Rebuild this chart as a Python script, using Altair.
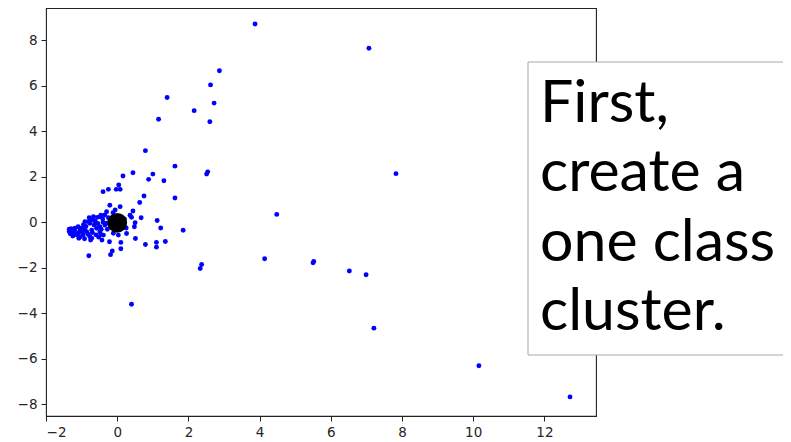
import altair as alt
import pandas as pd

# Blue sample points (x, y)
xs = [7.07, 7.83, 5.52, 5.50, 6.52, 6.99, 7.21, 10.16, 12.72, 3.87, 2.87, 2.62, 2.72, 2.16, 2.60,
      1.40, 1.16, 0.79, 1.62, 2.51, 2.54, 0.44, 0.16, 1.00, 0.88, 1.31, -0.40, -0.25, -0.03, 0.08,
      0.04, 0.75, 1.62, 4.48, 4.14, 2.37, 2.33, 0.40,
      0.63, -0.21, 0.08, 0.44, -0.46, -0.12, 0.36, 0.40, 0.67, 1.12, -0.56, 0.50, 0.48, 1.22, 1.85,
      0.26, 0.51, 0.10, 0.10, 0.79, 1.10, 1.10, 1.35, -0.14, -0.19, -0.80, -0.43, -0.22, -0.75,
      -0.46, -0.06,
      -0.79, -0.67, -0.49, -0.41, -0.91, -0.77, -1.28, -1.19, -1.10, -1.00, -1.24, -1.10, -0.96,
      -0.86, -0.72, -0.58, -0.49, -0.35, -1.05, -0.77, -0.72, -0.49, -0.39, -0.11, 0.03, -0.30,
      -0.21, -0.35, -0.30,
      -1.35, -1.32, -1.30, -1.20, -1.15, -1.05, -0.98, -0.92, -0.88, -0.82, -0.70, -0.65, -0.60,
      -0.55, -0.52, -0.45, -0.40, -0.62, -0.95, -1.08, -0.92, -0.68, -0.28, -0.25, -1.25, -1.35,
      -0.15, -0.10, 0.20, 0.25, -0.81, -0.72]
ys = [7.65, 2.14, -1.72, -1.78, -2.14, -2.30, -4.65, -6.30, -7.67, 8.72, 6.66, 6.04, 5.24, 4.91, 4.42,
      5.49, 4.53, 3.15, 2.47, 2.12, 2.22, 2.18, 2.04, 2.12, 1.89, 1.83, 1.35, 1.45, 1.45, 1.45,
      1.64, 1.16, 1.07, 0.35, -1.60, -1.85, -2.03, -3.60,
      0.87, 0.75, 0.69, 0.50, 0.31, 0.42, 0.31, 0.22, 0.20, 0.08, 0.22, -0.02, -0.19, -0.25, -0.35,
      -0.49, -0.71, -0.88, -1.16, -0.97, -0.88, -1.09, -0.84, -1.26, -1.42, -1.47, -0.78, -0.85, -0.78,
      -0.53, 0.54,
      0.20, 0.25, 0.25, 0.15, 0.03, -0.04, -0.34, -0.26, -0.19, -0.26, -0.48, -0.48, -0.56,
      -0.41, -0.34, -0.26, -0.19, -0.12, -0.63, -0.63, -0.70, -0.41, -0.56, -0.48, -0.56, -0.04,
      0.03, 0.32, 0.47,
      -0.40, -0.50, -0.28, -0.38, -0.55, -0.35, -0.45, -0.30, -0.18, -0.52, -0.45, -0.12, -0.55,
      -0.05, -0.65, -0.30, 0.00, 0.05, -0.10, -0.70, -0.72, 0.10, -0.30, 0.20, -0.60, -0.30,
      -0.20, 0.15, 0.15, -0.25, 0.03, 0.10]

# Cluster centre
cx = [0.0]
cy = [-0.02]

x_ticks = [-2, 0, 2, 4, 6, 8, 10, 12]
y_ticks = [-8, -6, -4, -2, 0, 2, 4, 6, 8]
x_domain = [-2.003, 13.45]
y_domain = [-8.51, 9.42]

note_text = ["First,", "create a", "one class", "cluster."]

pts = pd.DataFrame({"x": xs, "y": ys})
ctr = pd.DataFrame({"x": cx, "y": cy})

xenc = alt.X("x:Q", scale=alt.Scale(domain=x_domain, nice=False, zero=False),
             axis=alt.Axis(values=x_ticks, format="d", title=None))
yenc = alt.Y("y:Q", scale=alt.Scale(domain=y_domain, nice=False, zero=False),
             axis=alt.Axis(values=y_ticks, format="d", title=None))

points = alt.Chart(pts).mark_circle(color="#0000ff", opacity=1, size=24).encode(x=xenc, y=yenc)
centre = alt.Chart(ctr).mark_circle(color="black", opacity=1, size=390).encode(x=xenc, y=yenc)

one = pd.DataFrame({"a": [0]})
box = alt.Chart(one).mark_rect(fill="white", strokeWidth=0).encode(
    x=alt.value(482), x2=alt.value(760), y=alt.value(54), y2=alt.value(347))
edge_style = dict(color="#a8a8a8", strokeWidth=1)
top_edge = alt.Chart(one).mark_rule(**edge_style).encode(
    x=alt.value(482), x2=alt.value(760), y=alt.value(54))
bot_edge = alt.Chart(one).mark_rule(**edge_style).encode(
    x=alt.value(482), x2=alt.value(760), y=alt.value(347))
left_edge = alt.Chart(one).mark_rule(**edge_style).encode(
    x=alt.value(482), y=alt.value(54), y2=alt.value(347))

note = alt.Chart(pd.DataFrame({"t": ["\n".join(note_text)]})).mark_text(
    font="Lato", fontSize=59, lineBreak="\n", lineHeight=69.5, align="left",
    baseline="alphabetic", color="black").encode(
    x=alt.value(494), y=alt.value(113.5), text="t:N")

chart = alt.layer(points, centre, box, top_edge, bot_edge, left_edge, note).properties(
    width=550, height=408,
    autosize=alt.AutoSizeParams(type="none"),
    padding={"left": 38, "top": 0, "right": 187, "bottom": 30},
).configure_view(stroke="#222", strokeWidth=1.1).configure_axis(
    grid=False, domain=False, tickColor="#222", tickSize=5, tickWidth=1,
    labelFont="DejaVu Sans", labelFontSize=13.5, labelColor="#262626", labelPadding=4,
).configure_axisX(labelPadding=4)

chart.save("out.html", embed_options={"renderer": "svg", "actions": False})
